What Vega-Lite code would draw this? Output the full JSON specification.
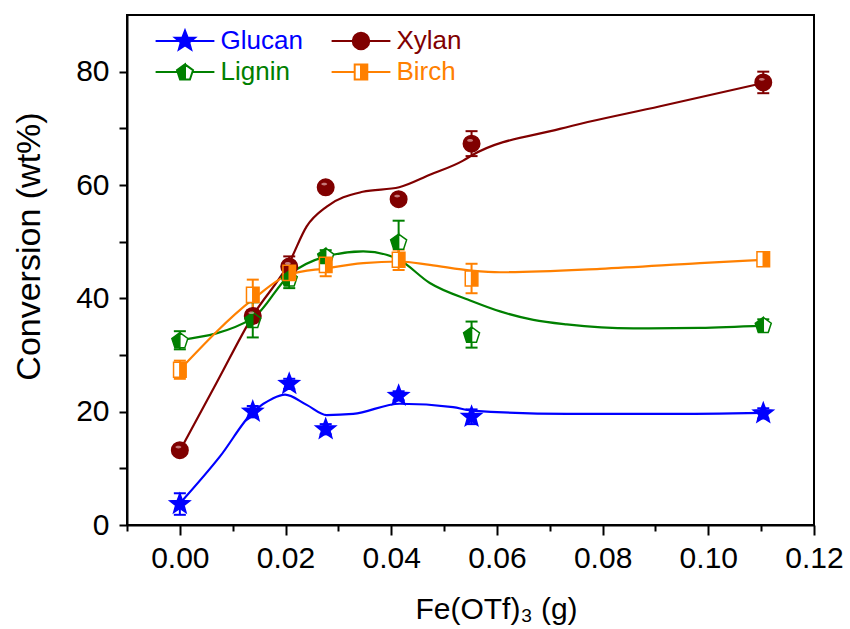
{
  "$schema": "https://vega.github.io/schema/vega-lite/v6.json",
  "width": 687,
  "height": 510,
  "autosize": {"type": "none"},
  "padding": {"left": 127, "top": 15, "right": 36, "bottom": 104},
  "background": "white",
  "config": {
    "view": {"stroke": "black", "strokeWidth": 2},
    "axis": {
      "labelFont": "Liberation Sans",
      "labelFontSize": 30,
      "labelColor": "black",
      "titleFont": "Liberation Sans",
      "titleFontWeight": "normal",
      "titleColor": "black",
      "domainColor": "black",
      "domainWidth": 2,
      "tickColor": "black",
      "tickWidth": 2,
      "grid": false
    }
  },
  "datasets": {
    "points": [
      {"series": "Glucan", "x": 0, "y": 3.7, "lo": 1.8, "hi": 5.6},
      {"series": "Glucan", "x": 0.0138, "y": 20.0, "lo": 19.0, "hi": 21.0},
      {"series": "Glucan", "x": 0.0207, "y": 24.9, "lo": 24.0, "hi": 25.8},
      {"series": "Glucan", "x": 0.0276, "y": 16.9, "lo": 16.0, "hi": 17.8},
      {"series": "Glucan", "x": 0.0414, "y": 22.8, "lo": 22.0, "hi": 23.6},
      {"series": "Glucan", "x": 0.0552, "y": 19.1, "lo": 17.8, "hi": 20.4},
      {"series": "Glucan", "x": 0.1104, "y": 19.7, "lo": 18.8, "hi": 20.6},
      {"series": "Xylan", "x": 0, "y": 13.2, "lo": 12.6, "hi": 13.8},
      {"series": "Xylan", "x": 0.0138, "y": 36.9, "lo": 35.9, "hi": 37.9},
      {"series": "Xylan", "x": 0.0207, "y": 45.6, "lo": 43.8, "hi": 47.4},
      {"series": "Xylan", "x": 0.0276, "y": 59.6, "lo": 58.9, "hi": 60.3},
      {"series": "Xylan", "x": 0.0414, "y": 57.5, "lo": 56.8, "hi": 58.2},
      {"series": "Xylan", "x": 0.0552, "y": 67.3, "lo": 65.1, "hi": 69.5},
      {"series": "Xylan", "x": 0.1104, "y": 78.1, "lo": 76.2, "hi": 80.0},
      {"series": "Lignin", "x": 0, "y": 32.6, "lo": 31.0, "hi": 34.2},
      {"series": "Lignin", "x": 0.0138, "y": 36.2, "lo": 33.1, "hi": 39.3},
      {"series": "Lignin", "x": 0.0207, "y": 43.5, "lo": 41.8, "hi": 45.2},
      {"series": "Lignin", "x": 0.0276, "y": 47.5, "lo": 46.5, "hi": 48.5},
      {"series": "Lignin", "x": 0.0414, "y": 50.0, "lo": 46.3, "hi": 53.7},
      {"series": "Lignin", "x": 0.0552, "y": 33.6, "lo": 31.3, "hi": 35.9},
      {"series": "Lignin", "x": 0.1104, "y": 35.3, "lo": 34.3, "hi": 36.3},
      {"series": "Birch", "x": 0, "y": 27.4, "lo": 25.8, "hi": 29.0},
      {"series": "Birch", "x": 0.0138, "y": 40.6, "lo": 37.9, "hi": 43.3},
      {"series": "Birch", "x": 0.0207, "y": 44.5, "lo": 42.8, "hi": 46.2},
      {"series": "Birch", "x": 0.0276, "y": 45.9, "lo": 43.9, "hi": 47.9},
      {"series": "Birch", "x": 0.0414, "y": 46.8, "lo": 45.0, "hi": 48.6},
      {"series": "Birch", "x": 0.0552, "y": 43.5, "lo": 40.9, "hi": 46.1},
      {"series": "Birch", "x": 0.1104, "y": 46.9, "lo": 45.9, "hi": 47.9}
    ],
    "curves": [
      {"series": "Glucan", "x": 0, "y": 3.8},
      {"series": "Glucan", "x": 0.0076, "y": 12.1},
      {"series": "Glucan", "x": 0.0139, "y": 20.0},
      {"series": "Glucan", "x": 0.0175, "y": 22.3},
      {"series": "Glucan", "x": 0.0199, "y": 23.0},
      {"series": "Glucan", "x": 0.024, "y": 21.2},
      {"series": "Glucan", "x": 0.0278, "y": 19.4},
      {"series": "Glucan", "x": 0.0328, "y": 19.6},
      {"series": "Glucan", "x": 0.0416, "y": 21.4},
      {"series": "Glucan", "x": 0.0517, "y": 20.8},
      {"series": "Glucan", "x": 0.0552, "y": 20.2},
      {"series": "Glucan", "x": 0.0732, "y": 19.6},
      {"series": "Glucan", "x": 0.092, "y": 19.6},
      {"series": "Glucan", "x": 0.1104, "y": 19.8},
      {"series": "Xylan", "x": 0, "y": 13.1},
      {"series": "Xylan", "x": 0.0069, "y": 25.0},
      {"series": "Xylan", "x": 0.0138, "y": 36.9},
      {"series": "Xylan", "x": 0.0208, "y": 46.5},
      {"series": "Xylan", "x": 0.024, "y": 52.7},
      {"series": "Xylan", "x": 0.0278, "y": 56.2},
      {"series": "Xylan", "x": 0.0346, "y": 58.8},
      {"series": "Xylan", "x": 0.0415, "y": 59.6},
      {"series": "Xylan", "x": 0.0473, "y": 61.8},
      {"series": "Xylan", "x": 0.0536, "y": 64.3},
      {"series": "Xylan", "x": 0.0552, "y": 65.2},
      {"series": "Xylan", "x": 0.0719, "y": 69.9},
      {"series": "Xylan", "x": 0.0909, "y": 73.9},
      {"series": "Xylan", "x": 0.1104, "y": 78.0},
      {"series": "Lignin", "x": 0, "y": 32.6},
      {"series": "Lignin", "x": 0.0138, "y": 36.5},
      {"series": "Lignin", "x": 0.0208, "y": 44.2},
      {"series": "Lignin", "x": 0.0277, "y": 47.4},
      {"series": "Lignin", "x": 0.0347, "y": 48.3},
      {"series": "Lignin", "x": 0.0391, "y": 47.7},
      {"series": "Lignin", "x": 0.0415, "y": 46.8},
      {"series": "Lignin", "x": 0.0473, "y": 42.7},
      {"series": "Lignin", "x": 0.0553, "y": 39.5},
      {"series": "Lignin", "x": 0.0606, "y": 37.7},
      {"series": "Lignin", "x": 0.0669, "y": 36.2},
      {"series": "Lignin", "x": 0.0732, "y": 35.4},
      {"series": "Lignin", "x": 0.0858, "y": 34.7},
      {"series": "Lignin", "x": 0.0984, "y": 34.8},
      {"series": "Lignin", "x": 0.1104, "y": 35.2},
      {"series": "Birch", "x": 0, "y": 27.4},
      {"series": "Birch", "x": 0.0138, "y": 39.8},
      {"series": "Birch", "x": 0.0207, "y": 44.2},
      {"series": "Birch", "x": 0.0277, "y": 45.3},
      {"series": "Birch", "x": 0.0347, "y": 46.2},
      {"series": "Birch", "x": 0.0415, "y": 46.5},
      {"series": "Birch", "x": 0.0473, "y": 45.9},
      {"series": "Birch", "x": 0.0552, "y": 44.9},
      {"series": "Birch", "x": 0.0606, "y": 44.6},
      {"series": "Birch", "x": 0.0795, "y": 45.2},
      {"series": "Birch", "x": 0.0984, "y": 46.2},
      {"series": "Birch", "x": 0.1104, "y": 46.8}
    ]
  },
  "encoding": {
    "x": {
      "field": "x",
      "type": "quantitative",
      "scale": {"domain": [-0.01, 0.12], "nice": false, "zero": false},
      "axis": {
        "title": "Fe(OTf)₃ (g)",
        "values": [-0.01, 0, 0.01, 0.02, 0.03, 0.04, 0.05, 0.06, 0.07, 0.08, 0.09, 0.1, 0.11, 0.12],
        "labelExpr": "datum.value >= -0.001 && abs(round(datum.value * 100)) % 2 == 0 ? format(datum.value, '.2f') : ''",
        "tickSize": {"condition": {"test": "abs(round(datum.value * 100)) % 2 == 0", "value": 10}, "value": 6},
        "labelPadding": 8,
        "labelOverlap": false,
        "labelFlush": false,
        "titleFontSize": 30,
        "titleX": 369,
        "titlePadding": 21
      }
    },
    "y": {
      "field": "y",
      "type": "quantitative",
      "scale": {"domain": [0, 90], "nice": false},
      "axis": {
        "title": "Conversion (wt%)",
        "values": [0, 10, 20, 30, 40, 50, 60, 70, 80],
        "labelExpr": "datum.value % 20 == 0 ? datum.label : ''",
        "tickSize": 8,
        "labelPadding": 10,
        "labelOverlap": false,
        "titleFontSize": 34,
        "titleY": 231,
        "titlePadding": 29
      }
    }
  },
  "layer": [
    {
      "data": {"name": "curves"},
      "mark": {"type": "line", "interpolate": "monotone", "strokeWidth": 2.2},
      "encoding": {
        "color": {"field": "series", "type": "nominal", "scale": {"domain": ["Glucan", "Xylan", "Lignin", "Birch"], "range": ["#0000ff", "#800000", "#008000", "#ff8000"]}, "legend": null}
      }
    },
    {
      "data": {"name": "points"},
      "mark": {"type": "rule", "strokeWidth": 2},
      "encoding": {
        "y": {"field": "lo", "type": "quantitative", "scale": {"domain": [0, 90], "nice": false}, "title": "Conversion (wt%)"},
        "y2": {"field": "hi"},
        "color": {"field": "series", "type": "nominal", "scale": {"domain": ["Glucan", "Xylan", "Lignin", "Birch"], "range": ["#0000ff", "#800000", "#008000", "#ff8000"]}, "legend": null}
      }
    },
    {
      "data": {"name": "points"},
      "mark": {"type": "tick", "orient": "horizontal", "size": 12, "thickness": 2, "opacity": 1},
      "encoding": {
        "y": {"field": "lo", "type": "quantitative", "scale": {"domain": [0, 90], "nice": false}, "title": "Conversion (wt%)"},
        "color": {"field": "series", "type": "nominal", "scale": {"domain": ["Glucan", "Xylan", "Lignin", "Birch"], "range": ["#0000ff", "#800000", "#008000", "#ff8000"]}, "legend": null}
      }
    },
    {
      "data": {"name": "points"},
      "mark": {"type": "tick", "orient": "horizontal", "size": 12, "thickness": 2, "opacity": 1},
      "encoding": {
        "y": {"field": "hi", "type": "quantitative", "scale": {"domain": [0, 90], "nice": false}, "title": "Conversion (wt%)"},
        "color": {"field": "series", "type": "nominal", "scale": {"domain": ["Glucan", "Xylan", "Lignin", "Birch"], "range": ["#0000ff", "#800000", "#008000", "#ff8000"]}, "legend": null}
      }
    },
    {
      "data": {"name": "points"},
      "transform": [{"filter": "datum.series == 'Lignin'"}],
      "mark": {"type": "point", "filled": true, "opacity": 1, "size": 441, "fill": "white", "strokeWidth": 0, "shape": "M0,-0.724L0.761,-0.171L0.47,0.723L-0.47,0.723L-0.761,-0.171Z"}
    },
    {
      "data": {"name": "points"},
      "transform": [{"filter": "datum.series == 'Birch'"}],
      "mark": {"type": "point", "filled": true, "opacity": 1, "size": 441, "fill": "white", "strokeWidth": 0, "shape": "M-0.6,-0.72H0.6V0.72H-0.6Z"}
    },
    {
      "data": {"name": "points"},
      "mark": {"type": "point", "filled": true, "opacity": 1, "size": 441, "strokeWidth": 1.5},
      "encoding": {
        "color": {"field": "series", "type": "nominal", "scale": {"domain": ["Glucan", "Xylan", "Lignin", "Birch"], "range": ["#0000ff", "#800000", "#008000", "#ff8000"]}, "legend": null},
        "stroke": {"field": "series", "type": "nominal", "scale": {"domain": ["Glucan", "Xylan", "Lignin", "Birch"], "range": ["#0000ff", "#800000", "#008000", "#ff8000"]}, "legend": null},
        "shape": {
          "field": "series",
          "type": "nominal",
          "scale": {
            "domain": ["Glucan", "Xylan", "Lignin", "Birch"],
            "range": [
              "M0,-1L0.2469,-0.3398L0.9511,-0.309L0.3994,0.1298L0.5878,0.809L0,0.42L-0.5878,0.809L-0.3994,0.1298L-0.9511,-0.309L-0.2469,-0.3398Z",
              "M0.786,0A0.786,0.786,0,1,1,-0.786,0A0.786,0.786,0,1,1,0.786,0Z",
              "M0,-0.724L-0.761,-0.171L-0.47,0.723L0,0.723ZM0,-0.724L0.761,-0.171L0.47,0.723L0,0.723L0.47,0.723L0.761,-0.171Z",
              "M0,-0.72H0.6V0.72H0ZM0,-0.72H-0.6V0.72H0H-0.6V-0.72Z"
            ]
          },
          "legend": null
        }
      }
    },
    {
      "data": {"name": "points"},
      "transform": [{"filter": "datum.series == 'Xylan'"}],
      "mark": {"type": "point", "filled": true, "opacity": 0.6, "size": 441, "fill": "#f3c9c9", "strokeWidth": 0, "shape": "M-0.42,-0.3A0.28,0.13,0,1,1,0.14,-0.3A0.28,0.13,0,1,1,-0.42,-0.3Z"}
    },
    {
      "data": {"name": "points"},
      "transform": [{"filter": "false"}],
      "mark": {"type": "point", "filled": true, "opacity": 1, "size": 441, "strokeWidth": 2},
      "encoding": {
        "color": {
          "field": "series",
          "type": "nominal",
          "scale": {"domain": ["Glucan", "Lignin", "Xylan", "Birch"], "range": ["#0000ff", "#008000", "#800000", "#ff8000"]},
          "legend": {
            "title": null,
            "orient": "none",
            "legendX": 45,
            "legendY": 13,
            "columns": 2,
            "columnPadding": 24,
            "rowPadding": 5,
            "labelOffset": 22.5,
            "labelFont": "Liberation Sans",
            "labelFontSize": 26,
            "symbolSize": 441,
            "symbolStrokeWidth": 2,
            "symbolOpacity": 1,
            "padding": 0,
            "encode": {
              "labels": {"update": {"fill": {"signal": "datum.value == 'Glucan' ? '#0000ff' : datum.value == 'Xylan' ? '#800000' : datum.value == 'Lignin' ? '#008000' : '#ff8000'"}}},
              "symbols": {"update": {"stroke": {"signal": "datum.value == 'Glucan' ? '#0000ff' : datum.value == 'Xylan' ? '#800000' : datum.value == 'Lignin' ? '#008000' : '#ff8000'"}, "strokeWidth": {"value": 2}}}
            }
          }
        },
        "shape": {
          "field": "series",
          "type": "nominal",
          "scale": {
            "domain": ["Glucan", "Lignin", "Xylan", "Birch"],
            "range": [
              "M-2.8,0H2.8M0,-1L0.2469,-0.3398L0.9511,-0.309L0.3994,0.1298L0.5878,0.809L0,0.42L-0.5878,0.809L-0.3994,0.1298L-0.9511,-0.309L-0.2469,-0.3398Z",
              "M-2.8,0H-0.705M0.705,0H2.8M0,-0.724L-0.761,-0.171L-0.47,0.723L0,0.723ZM0,-0.724L0.761,-0.171L0.47,0.723L0,0.723L0.47,0.723L0.761,-0.171Z",
              "M-2.8,0H2.8M0.786,0A0.786,0.786,0,1,1,-0.786,0A0.786,0.786,0,1,1,0.786,0Z",
              "M-2.8,0H-0.6M0.6,0H2.8M0,-0.72H0.6V0.72H0ZM0,-0.72H-0.6V0.72H0H-0.6V-0.72Z"
            ]
          },
          "legend": {
            "title": null,
            "orient": "none",
            "legendX": 45,
            "legendY": 13,
            "columns": 2,
            "columnPadding": 24,
            "rowPadding": 5,
            "labelOffset": 22.5,
            "labelFont": "Liberation Sans",
            "labelFontSize": 26,
            "symbolSize": 441,
            "symbolStrokeWidth": 2,
            "symbolOpacity": 1,
            "padding": 0,
            "encode": {
              "labels": {"update": {"fill": {"signal": "datum.value == 'Glucan' ? '#0000ff' : datum.value == 'Xylan' ? '#800000' : datum.value == 'Lignin' ? '#008000' : '#ff8000'"}}},
              "symbols": {"update": {"stroke": {"signal": "datum.value == 'Glucan' ? '#0000ff' : datum.value == 'Xylan' ? '#800000' : datum.value == 'Lignin' ? '#008000' : '#ff8000'"}, "strokeWidth": {"value": 2}}}
            }
          }
        }
      }
    }
  ],
  "resolve": {"scale": {"color": "independent", "shape": "independent", "stroke": "independent"}}
}
